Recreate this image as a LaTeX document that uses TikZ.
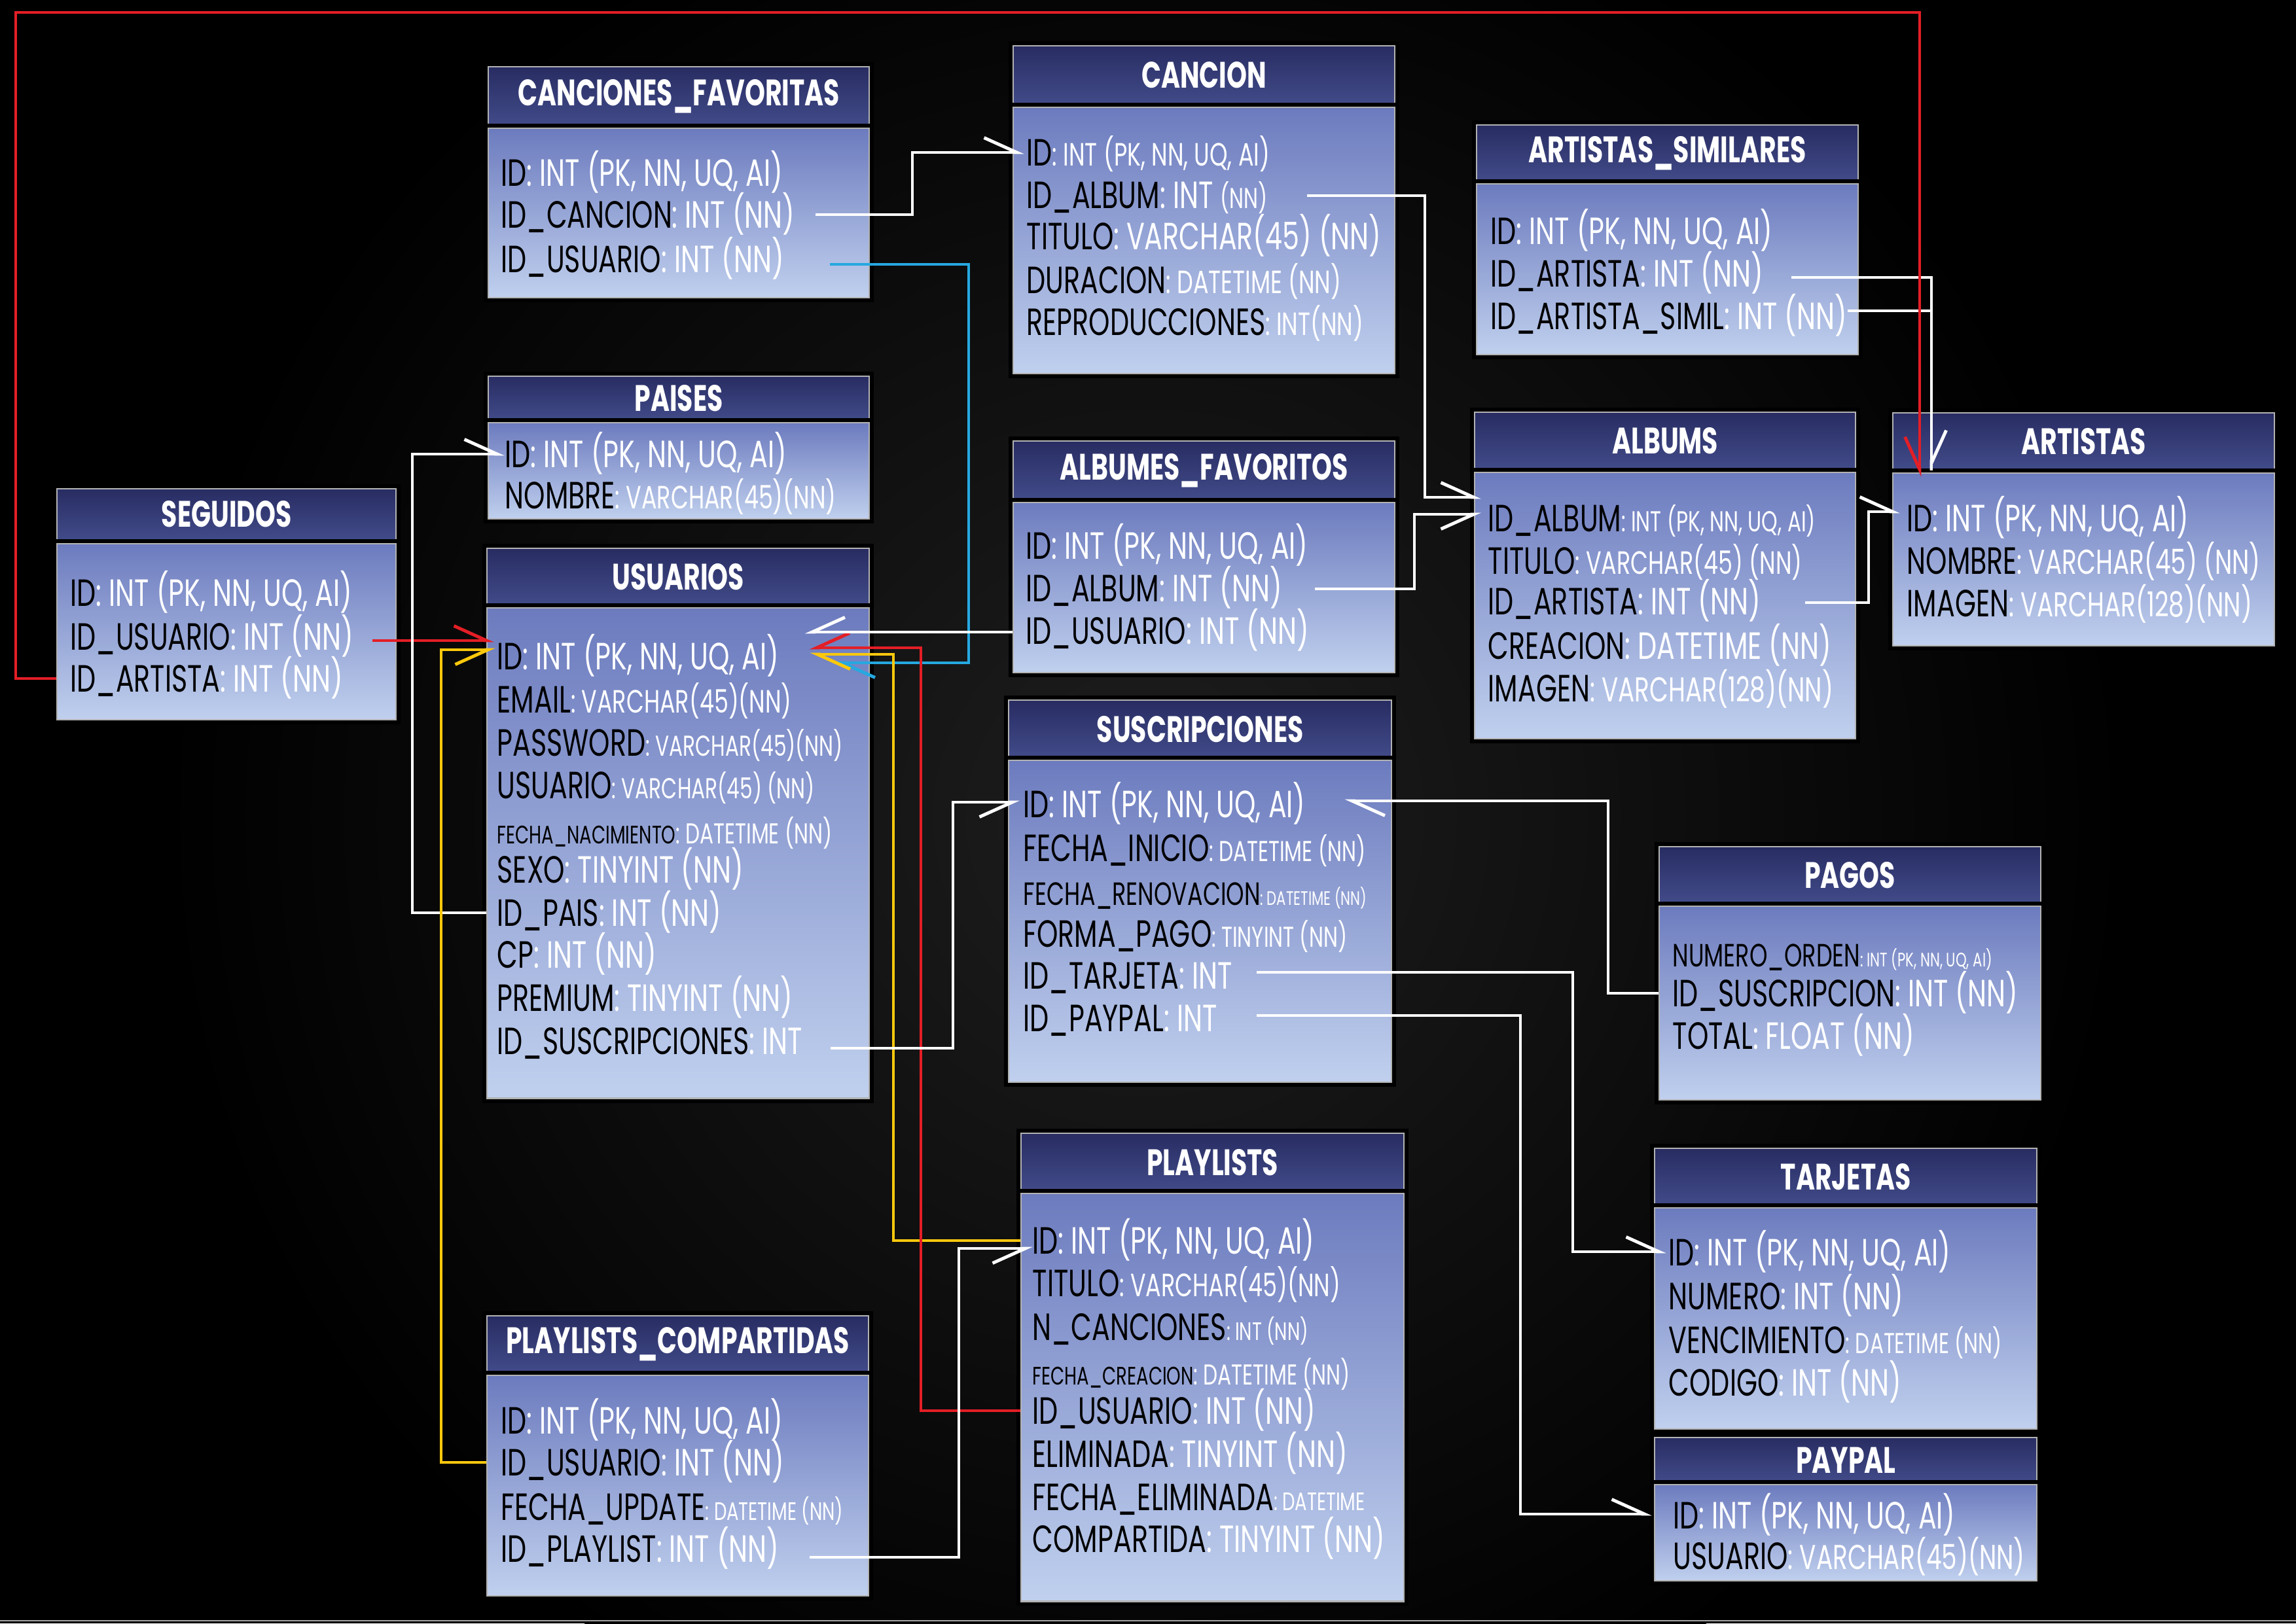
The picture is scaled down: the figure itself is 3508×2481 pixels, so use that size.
\documentclass[tikz,border=0pt]{standalone}
\usepackage{fontspec}
\newfontfamily\rowf[FakeStretch=0.71]{Poppins}
\newfontfamily\hdf[FakeStretch=0.70]{Poppins}
\usetikzlibrary{arrows.meta,calc}
\definecolor{hdA}{RGB}{40,44,98}
\definecolor{hdB}{RGB}{66,76,138}
\definecolor{bdA}{RGB}{108,123,190}
\definecolor{bdB}{RGB}{192,208,238}
\definecolor{bgC}{RGB}{30,30,30}
\definecolor{lnR}{RGB}{228,30,38}
\definecolor{lnY}{RGB}{252,200,12}
\definecolor{lnB}{RGB}{38,168,224}
\newcommand\ty[1]{\textcolor{white}{#1}}
\newcommand\szE{\fontsize{15}{16}\selectfont}
\newcommand\szA{\fontsize{14}{15}\selectfont}
\newcommand\szB{\fontsize{12.5}{13}\selectfont}
\newcommand\szC{\fontsize{11}{12}\selectfont}
\newcommand\szD{\fontsize{8.5}{9}\selectfont}
\tikzset{
  hd/.style={draw=gray!60, line width=0.6pt, preaction={draw=black, line width=4pt}, top color=hdA, bottom color=hdB, text=white, font=\hdf\bfseries\fontsize{16}{17}\selectfont, anchor=north west, inner sep=0pt},
  bd/.style={draw=gray!60, line width=0.6pt, preaction={draw=black, line width=4pt}, top color=bdA, bottom color=bdB, anchor=north west, inner sep=0pt},
  fd/.style={font=\rowf\fontsize{16.5}{17}\selectfont, text=black, anchor=west, inner sep=0pt, text height=4.1mm, text depth=0pt},
  cn/.style={line width=1.4pt},
  wl/.style={cn, white}, rl/.style={cn, lnR}, yl/.style={cn, lnY}, bl/.style={cn, lnB},
  hp/.style={-{Straight Barb[harpoon, length=5mm, width=4.5mm]}},
  hps/.style={-{Straight Barb[harpoon, swap, length=5mm, width=4.5mm]}},
}

\begin{document}
\begin{tikzpicture}[x=0.01cm, y=-0.01cm]
\useasboundingbox (0,0) rectangle (3508,2481);
\fill[black] (0,0) rectangle (3508,2481);
\shade[inner color=bgC, outer color=black] (1750,1250) circle (1500);
\draw[gray!70, line width=0.6pt] (0,2477) -- (3508,2477);

% canciones favoritas
\node[hd, minimum width=5.82cm, minimum height=0.91cm] (cfH) at (745,101) {CANCIONES\_FAVORITAS};
\node[bd, minimum width=5.82cm, minimum height=2.59cm] (cfB) at (745,195) {};
\node[fd] (cfID) at (765,264) {ID\ty{: INT (PK, NN, UQ, AI)}};
\node[fd] (cfCAN) at (765,328) {ID\_CANCION\ty{: INT (NN)}};
\node[fd] (cfUSU) at (765,396) {ID\_USUARIO\ty{: INT (NN)}};

% cancion
\node[hd, minimum width=5.83cm, minimum height=0.90cm] (caH) at (1547,69) {CANCION};
\node[bd, minimum width=5.83cm, minimum height=4.07cm] (caB) at (1547,163) {};
\node[fd] (caID) at (1568,233) {ID\ty{\szA: INT (PK, NN, UQ, AI)}};
\node[fd] (caALB) at (1568,298) {ID\_ALBUM\ty{: INT \szB(NN)}};
\node[fd] (caTIT) at (1568,361) {TITULO\ty{: VARCHAR(45) (NN)}};
\node[fd] (caDUR) at (1568,428) {DURACION\ty{\szA: DATETIME (NN)}};
\node[fd] (caREP) at (1568,492) {REPRODUCCIONES\ty{\szA: INT(NN)}};

% paises
\node[hd, minimum width=5.82cm, minimum height=0.68cm] (paH) at (745,574) {PAISES};
\node[bd, minimum width=5.82cm, minimum height=1.47cm] (paB) at (745,645) {};
\node[fd] (paID) at (771,694) {ID\ty{: INT (PK, NN, UQ, AI)}};
\node[fd] (paNOM) at (771,757) {NOMBRE\ty{\szA: VARCHAR(45)(NN)}};

% albumes favoritos
\node[hd, minimum width=5.83cm, minimum height=0.90cm] (afH) at (1547,673) {ALBUMES\_FAVORITOS};
\node[bd, minimum width=5.83cm, minimum height=2.60cm] (afB) at (1547,767) {};
\node[fd] (afID) at (1567,834) {ID\ty{: INT (PK, NN, UQ, AI)}};
\node[fd] (afALB) at (1567,899) {ID\_ALBUM\ty{: INT (NN)}};
\node[fd] (afUSU) at (1567,964) {ID\_USUARIO\ty{: INT (NN)}};

% seguidos
\node[hd, minimum width=5.18cm, minimum height=0.78cm] (seH) at (86,746) {SEGUIDOS};
\node[bd, minimum width=5.18cm, minimum height=2.69cm] (seB) at (86,830) {};
\node[fd] (seID) at (107,906) {ID\ty{: INT (PK, NN, UQ, AI)}};
\node[fd] (seUSU) at (107,973) {ID\_USUARIO\ty{: INT (NN)}};
\node[fd] (seART) at (107,1037) {ID\_ARTISTA\ty{: INT (NN)}};

% usuarios
\node[hd, minimum width=5.84cm, minimum height=0.88cm] (usH) at (743,837) {USUARIOS};
\node[bd, minimum width=5.84cm, minimum height=7.49cm] (usB) at (743,928) {};
\node[fd] (usID) at (759,1003) {ID\ty{: INT (PK, NN, UQ, AI)}};
\node[fd] (usEM) at (759,1069) {EMAIL\ty{\szA: VARCHAR(45)(NN)}};
\node[fd] (usPW) at (759,1135) {PASSWORD\ty{\szB: VARCHAR(45)(NN)}};
\node[fd] (usUS) at (759,1200) {USUARIO\ty{\szB: VARCHAR(45) (NN)}};
\node[fd] (usFN) at (759,1269) {\szC FECHA\_NACIMIENTO\ty{\szB: DATETIME (NN)}};
\node[fd] (usSX) at (759,1329) {SEXO\ty{: TINYINT (NN)}};
\node[fd] (usPAI) at (759,1395) {ID\_PAIS\ty{: INT (NN)}};
\node[fd] (usCP) at (759,1459) {CP\ty{: INT (NN)}};
\node[fd] (usPR) at (759,1525) {PREMIUM\ty{: TINYINT (NN)}};
\node[fd] (usSUS) at (759,1591) {ID\_SUSCRIPCIONES\ty{: INT}};

% artistas similares
\node[hd, minimum width=5.83cm, minimum height=0.86cm] (asH) at (2255,190) {ARTISTAS\_SIMILARES};
\node[bd, minimum width=5.83cm, minimum height=2.61cm] (asB) at (2255,280) {};
\node[fd] (asID) at (2277,353) {ID\ty{: INT (PK, NN, UQ, AI)}};
\node[fd] (asART) at (2277,418) {ID\_ARTISTA\ty{: INT (NN)}};
\node[fd] (asSIM) at (2277,483) {ID\_ARTISTA\_SIMIL\ty{: INT (NN)}};

% albums
\node[hd, minimum width=5.82cm, minimum height=0.88cm] (alH) at (2252,629) {ALBUMS};
\node[bd, minimum width=5.82cm, minimum height=4.07cm] (alB) at (2252,721) {};
\node[fd] (alALB) at (2273,792) {ID\_ALBUM\ty{\szB: INT (PK, NN, UQ, AI)}};
\node[fd] (alTIT) at (2273,857) {TITULO\ty{\szA: VARCHAR(45) (NN)}};
\node[fd] (alART) at (2273,919) {ID\_ARTISTA\ty{: INT (NN)}};
\node[fd] (alCRE) at (2273,987) {CREACION\ty{: DATETIME (NN)}};
\node[fd] (alIMG) at (2273,1052) {IMAGEN\ty{\szE: VARCHAR(128)(NN)}};

% artistas
\node[hd, minimum width=5.83cm, minimum height=0.87cm] (arH) at (2891,630) {ARTISTAS};
\node[bd, minimum width=5.83cm, minimum height=2.64cm] (arB) at (2891,722) {};
\node[fd] (arID) at (2913,792) {ID\ty{: INT (PK, NN, UQ, AI)}};
\node[fd] (arNOM) at (2913,857) {NOMBRE\ty{\szE: VARCHAR(45) (NN)}};
\node[fd] (arIMG) at (2913,922) {IMAGEN\ty{\szE: VARCHAR(128)(NN)}};

% suscripciones
\node[hd, minimum width=5.85cm, minimum height=0.89cm] (suH) at (1540,1069) {SUSCRIPCIONES};
\node[bd, minimum width=5.85cm, minimum height=4.92cm] (suB) at (1540,1161) {};
\node[fd] (suID) at (1563,1229) {ID\ty{: INT (PK, NN, UQ, AI)}};
\node[fd] (suFI) at (1563,1296) {FECHA\_INICIO\ty{\szB: DATETIME (NN)}};
\node[fd] (suFR) at (1563,1363) {\szA FECHA\_RENOVACION\ty{\szD: DATETIME (NN)}};
\node[fd] (suFP) at (1563,1427) {FORMA\_PAGO\ty{\szB: TINYINT (NN)}};
\node[fd] (suTAR) at (1563,1491) {ID\_TARJETA\ty{: INT}};
\node[fd] (suPAY) at (1563,1556) {ID\_PAYPAL\ty{: INT}};

% pagos
\node[hd, minimum width=5.83cm, minimum height=0.87cm] (pgH) at (2534,1293) {PAGOS};
\node[bd, minimum width=5.83cm, minimum height=2.96cm] (pgB) at (2534,1384) {};
\node[fd] (pgNUM) at (2555,1457) {\szA NUMERO\_ORDEN\ty{\szD: INT (PK, NN, UQ, AI)}};
\node[fd] (pgSUS) at (2555,1518) {ID\_SUSCRIPCION\ty{: INT (NN)}};
\node[fd] (pgTOT) at (2555,1583) {TOTAL\ty{: FLOAT (NN)}};

% playlists
\node[hd, minimum width=5.85cm, minimum height=0.89cm] (plH) at (1559,1731) {PLAYLISTS};
\node[bd, minimum width=5.85cm, minimum height=6.23cm] (plB) at (1559,1823) {};
\node[fd] (plID) at (1577,1896) {ID\ty{: INT (PK, NN, UQ, AI)}};
\node[fd] (plTIT) at (1577,1961) {TITULO\ty{\szA: VARCHAR(45)(NN)}};
\node[fd] (plNC) at (1577,2028) {N\_CANCIONES\ty{\szC: INT (NN)}};
\node[fd] (plFC) at (1577,2096) {\szC FECHA\_CREACION\ty{\szB: DATETIME (NN)}};
\node[fd] (plUSU) at (1577,2156) {ID\_USUARIO\ty{: INT (NN)}};
\node[fd] (plEL) at (1577,2222) {ELIMINADA\ty{: TINYINT (NN)}};
\node[fd] (plFE) at (1577,2288) {FECHA\_ELIMINADA\ty{\szC: DATETIME}};
\node[fd] (plCO) at (1577,2352) {COMPARTIDA\ty{: TINYINT (NN)}};

% playlists compartidas
\node[hd, minimum width=5.83cm, minimum height=0.87cm] (pcH) at (743,2010) {PLAYLISTS\_COMPARTIDAS};
\node[bd, minimum width=5.83cm, minimum height=3.37cm] (pcB) at (743,2101) {};
\node[fd] (pcID) at (765,2171) {ID\ty{: INT (PK, NN, UQ, AI)}};
\node[fd] (pcUSU) at (765,2235) {ID\_USUARIO\ty{: INT (NN)}};
\node[fd] (pcFU) at (765,2303) {FECHA\_UPDATE\ty{\szC: DATETIME (NN)}};
\node[fd] (pcPLA) at (765,2367) {ID\_PLAYLIST\ty{: INT (NN)}};

% tarjetas
\node[hd, minimum width=5.84cm, minimum height=0.88cm] (taH) at (2527,1754) {TARJETAS};
\node[bd, minimum width=5.84cm, minimum height=3.38cm] (taB) at (2527,1845) {};
\node[fd] (taID) at (2549,1914) {ID\ty{: INT (PK, NN, UQ, AI)}};
\node[fd] (taNUM) at (2549,1981) {NUMERO\ty{: INT (NN)}};
\node[fd] (taVEN) at (2549,2048) {VENCIMIENTO\ty{\szB: DATETIME (NN)}};
\node[fd] (taCOD) at (2549,2113) {CODIGO\ty{: INT (NN)}};

% paypal
\node[hd, minimum width=5.84cm, minimum height=0.69cm] (ppH) at (2527,2196) {PAYPAL};
\node[bd, minimum width=5.84cm, minimum height=1.47cm] (ppB) at (2527,2268) {};
\node[fd] (ppID) at (2556,2316) {ID\ty{: INT (PK, NN, UQ, AI)}};
\node[fd] (ppUSU) at (2556,2378) {USUARIO\ty{\szE: VARCHAR(45)(NN)}};

% arrow ends
\coordinate (caIn) at ($(caID.west)+(-3,0)$);
\coordinate (alIn1) at ($(alALB.west)+(-10,-32)$);
\coordinate (alIn2) at ($(alALB.west)+(-10,-6)$);
\coordinate (arIn) at ($(arID.west)+(-10,-10)$);
\coordinate (arTop) at (2951,0 |- arH.south);
\coordinate (arRed) at ($(2933,0 |- arH.south)+(0,10)$);
\coordinate (usW) at ($(usB.east |- usID)+(-100,-37)$);
\coordinate (usR) at ($(usB.east |- usID)+(-93,-13)$);
\coordinate (usY2) at ($(usB.east |- usID)+(-92,-3)$);
\coordinate (usBl) at ($(usB.east |- usID)+(-54,10)$);
\coordinate (usR1) at ($(usID.west)+(-4,-24)$);
\coordinate (usY1) at ($(usID.west)+(-2,-10)$);
\coordinate (suIn) at ($(suID.west)+(-5,-3)$);
\coordinate (suOut) at ($(suB.east |- suID)+(-73,-5)$);
\coordinate (taIn) at ($(taID.west)+(-3,-1)$);
\coordinate (ppIn) at ($(ppID.west)+(-32,-2)$);
\coordinate (plIn) at ($(plID.west)+(1,12)$);

% links
\draw[wl,hp] ($(cfB.east |- cfCAN)+(-83,0)$) -| (1394,0 |- caIn) -- (caIn);
\draw[bl,hp] ($(cfB.east |- cfUSU)+(-61,8)$) -| (1480,0 |- usBl) -- (usBl);
\draw[wl,hp] ($(caB.east |- caALB)+(-135,1)$) -| (2177,0 |- alIn1) -- (alIn1);
\draw[wl,hps] ($(afB.east |- afALB)+(-123,1)$) -| (2161,0 |- alIn2) -- (alIn2);
\draw[wl,hp] ($(alB.east |- alART)+(-78,2)$) -| (2855,0 |- arIn) -- (arIn);
\draw[wl,hp] ($(asB.east |- asART)+(-103,6)$) -| (arTop);
\draw[wl] ($(asB.east |- asSIM)+(-17,-8)$) -| (arTop);
\draw[rl,hps] (seB.west |- seART) -| (24,19) -| (arRed);
\draw[rl,hp] ($(seB.east |- seUSU)+(-37,6)$) -- (usR1);
\draw[wl,hp] (usB.west |- usPAI) -| (630,0 |- paID.west) -- (paID.west);
\draw[yl,hps] (pcB.west |- pcUSU) -| (674,0 |- usY1) -- (usY1);
\draw[yl,hp] (plB.west |- plID) -| (1365,0 |- usY2) -- (usY2);
\draw[rl,hps] (plB.west |- plUSU) -| (1407,0 |- usR) -- (usR);
\draw[wl,hps] (usW -| afB.west) -- (usW);
\draw[wl,hps] ($(usB.east |- usSUS)+(-60,11)$) -| (1456,0 |- suIn) -- (suIn);
\draw[wl,hp] (pgB.west |- pgSUS) -| (2457,0 |- suOut) -- (suOut);
\draw[wl,hp] ($(suB.east |- suTAR)+(-207,-5)$) -| (2403,0 |- taIn) -- (taIn);
\draw[wl,hp] ($(suB.east |- suPAY)+(-207,-4)$) -| (2323,0 |- ppIn) -- (ppIn);
\draw[wl,hps] ($(pcB.east |- pcPLA)+(-91,13)$) -| (1465,0 |- plIn) -- (plIn);
\end{tikzpicture}
\end{document}
